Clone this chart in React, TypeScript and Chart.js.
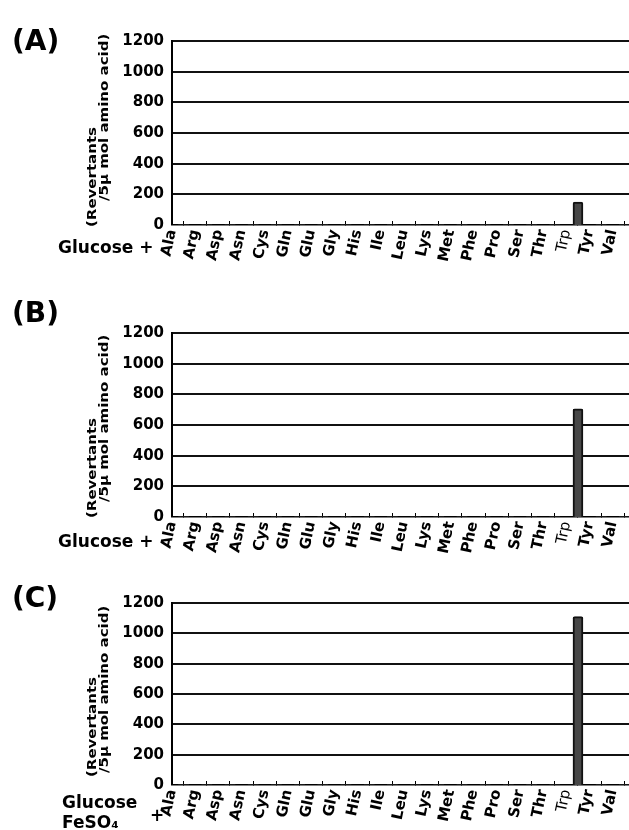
import { useEffect, useRef } from 'react';
import { Chart, registerables } from 'chart.js';

Chart.register(...registerables);

// ---------- data ----------
const aminoAcids = ['Ala', 'Arg', 'Asp', 'Asn', 'Cys', 'Gln', 'Glu', 'Gly', 'His', 'Ile', 'Leu', 'Lys', 'Met', 'Phe', 'Pro', 'Ser', 'Thr', 'Trp', 'Tyr', 'Val'];
const revertantsA = [0, 0, 0, 0, 0, 0, 0, 0, 0, 0, 0, 0, 0, 0, 0, 0, 0, 150, 0, 0];
const revertantsB = [0, 0, 0, 0, 0, 0, 0, 0, 0, 0, 0, 0, 0, 0, 0, 0, 0, 705, 0, 0];
const revertantsC = [0, 0, 0, 0, 0, 0, 0, 0, 0, 0, 0, 0, 0, 0, 0, 0, 0, 1110, 0, 0];
const yTickValues = [0, 200, 400, 600, 800, 1000, 1200];
const yTitleLines = ['(Revertants', '/5\u00b5 mol amino acid)'];
const panelLabels = ['(A)', '(B)', '(C)'];
const conditionAB = ['Glucose +'];
const conditionC = ['Glucose', 'FeSO\u2084', '+'];

// ---------- layout / style ----------
const FONT = '"DejaVu Sans", sans-serif';
const CANVAS_W = 629;
const Y_AXIS_W = 172;
const X_AXIS_H = 40;

const panels = [
  {
    label: panelLabels[0], values: revertantsA, condition: conditionAB,
    top: 0, height: 280, chartTop: 41, chartBottom: 225, labelBaseline: 50,
    titlePos: [{ x: 93, dy: 2 }, { x: 105, dy: -24 }],
    condPos: [{ x: 58, dy: 28 }],
  },
  {
    label: panelLabels[1], values: revertantsB, condition: conditionAB,
    top: 280, height: 280, chartTop: 53, chartBottom: 237, labelBaseline: 42,
    titlePos: [{ x: 93, dy: 1 }, { x: 105, dy: -15 }],
    condPos: [{ x: 58, dy: 30 }],
  },
  {
    label: panelLabels[2], values: revertantsC, condition: conditionC,
    top: 560, height: 270, chartTop: 43, chartBottom: 225, labelBaseline: 47,
    titlePos: [{ x: 93, dy: -8 }, { x: 105, dy: -12 }],
    condPos: [{ x: 62, dy: 23 }, { x: 62, dy: 43 }, { x: 150, dy: 36 }],
  },
];

const panelText = {
  id: 'panelText',
  afterDraw(chart: any, _args: any, opts: any) {
    const { ctx, chartArea } = chart;
    ctx.save();
    ctx.fillStyle = '#000';
    ctx.textAlign = 'left';
    ctx.textBaseline = 'alphabetic';
    ctx.font = `bold 28px ${FONT}`;
    ctx.fillText(opts.label, 12, opts.labelBaseline);

    ctx.font = `bold 15px ${FONT}`;
    yTitleLines.forEach((line, i) => {
      const p = opts.titlePos[i];
      ctx.save();
      ctx.translate(p.x, chartArea.bottom + p.dy);
      ctx.rotate(-Math.PI / 2);
      ctx.scale(1, 0.85);
      ctx.textAlign = 'left';
      ctx.textBaseline = 'middle';
      ctx.fillText(line, 0, 0);
      ctx.restore();
    });

    ctx.font = `bold 17px ${FONT}`;
    opts.condition.forEach((text: string, i: number) => {
      const p = opts.condPos[i];
      ctx.fillText(text, p.x, chartArea.bottom + p.dy);
    });
    ctx.restore();
  },
};

function Panel({ cfg }: { cfg: any }) {
  const ref = useRef<HTMLCanvasElement>(null);
  useEffect(() => {
    if (!ref.current) return;
    const chart = new Chart(ref.current, {
      type: 'bar',
      data: {
        datasets: [
          {
            data: aminoAcids.map((_, i) => ({ x: i + 0.5, y: cfg.values[i] })),
            backgroundColor: '#474747',
            borderColor: '#111',
            borderWidth: (c: any) => (c.raw && c.raw.y > 0 ? 2 : 0),
            borderRadius: 2,
            borderSkipped: 'start',
            barThickness: 10,
          },
        ],
      },
      options: {
        responsive: false,
        animation: false,
        events: [],
        layout: {
          padding: {
            left: 0,
            right: 0,
            top: cfg.chartTop,
            bottom: cfg.height - cfg.chartBottom - X_AXIS_H,
          },
        },
        plugins: {
          legend: { display: false },
          tooltip: { enabled: false },
          panelText: {
            label: cfg.label,
            labelBaseline: cfg.labelBaseline,
            titlePos: cfg.titlePos,
            condition: cfg.condition,
            condPos: cfg.condPos,
          },
        } as any,
        scales: {
          x: {
            type: 'linear',
            min: 0,
            max: 19.7,
            offset: false,
            afterBuildTicks: (scale: any) => {
              scale.ticks = aminoAcids.map((_, i) => ({ value: i }));
            },
            afterFit: (scale: any) => {
              scale.height = X_AXIS_H;
              scale.paddingLeft = 0;
              scale.paddingRight = 0;
            },
            ticks: {
              autoSkip: false,
              includeBounds: false,
              minRotation: 78,
              maxRotation: 78,
              padding: 7,
              color: '#000',
              callback: (v: any) => aminoAcids[v] ?? '',
              font: (c: any) => ({
                family: FONT,
                size: 15,
                weight: aminoAcids[c.index] === 'Trp' ? 'normal' : 'bold',
              }),
            },
            grid: {
              drawOnChartArea: false,
              drawTicks: true,
              tickLength: -4,
              color: '#000',
              lineWidth: 1,
            },
            border: { display: true, color: '#000', width: 1.5 },
          },
          y: {
            min: 0,
            max: 1200,
            afterBuildTicks: (scale: any) => {
              scale.ticks = yTickValues.map((v) => ({ value: v }));
            },
            afterFit: (scale: any) => {
              scale.width = Y_AXIS_W;
            },
            ticks: {
              padding: 8,
              color: '#000',
              callback: (v: any) => String(v),
              font: { family: FONT, size: 15, weight: 'bold' },
            },
            grid: {
              drawTicks: false,
              color: '#111',
              lineWidth: (c: any) => (c.tick && c.tick.value === 0 ? 0 : 2),
            },
            border: { display: true, color: '#000', width: 2 },
          },
        },
      } as any,
      plugins: [panelText],
    });
    return () => chart.destroy();
  }, [cfg]);

  return (
    <canvas
      ref={ref}
      width={CANVAS_W}
      height={cfg.height}
      style={{ position: 'absolute', left: 0, top: cfg.top, display: 'block' }}
    />
  );
}

export default function App() {
  useEffect(() => {
    document.body.style.margin = '0';
    document.body.style.overflow = 'hidden';
    document.body.style.background = '#fff';
  }, []);
  return (
    <div style={{ position: 'relative', width: CANVAS_W, height: 830, background: '#fff' }}>
      {panels.map((p) => (
        <Panel key={p.label} cfg={p} />
      ))}
    </div>
  );
}
